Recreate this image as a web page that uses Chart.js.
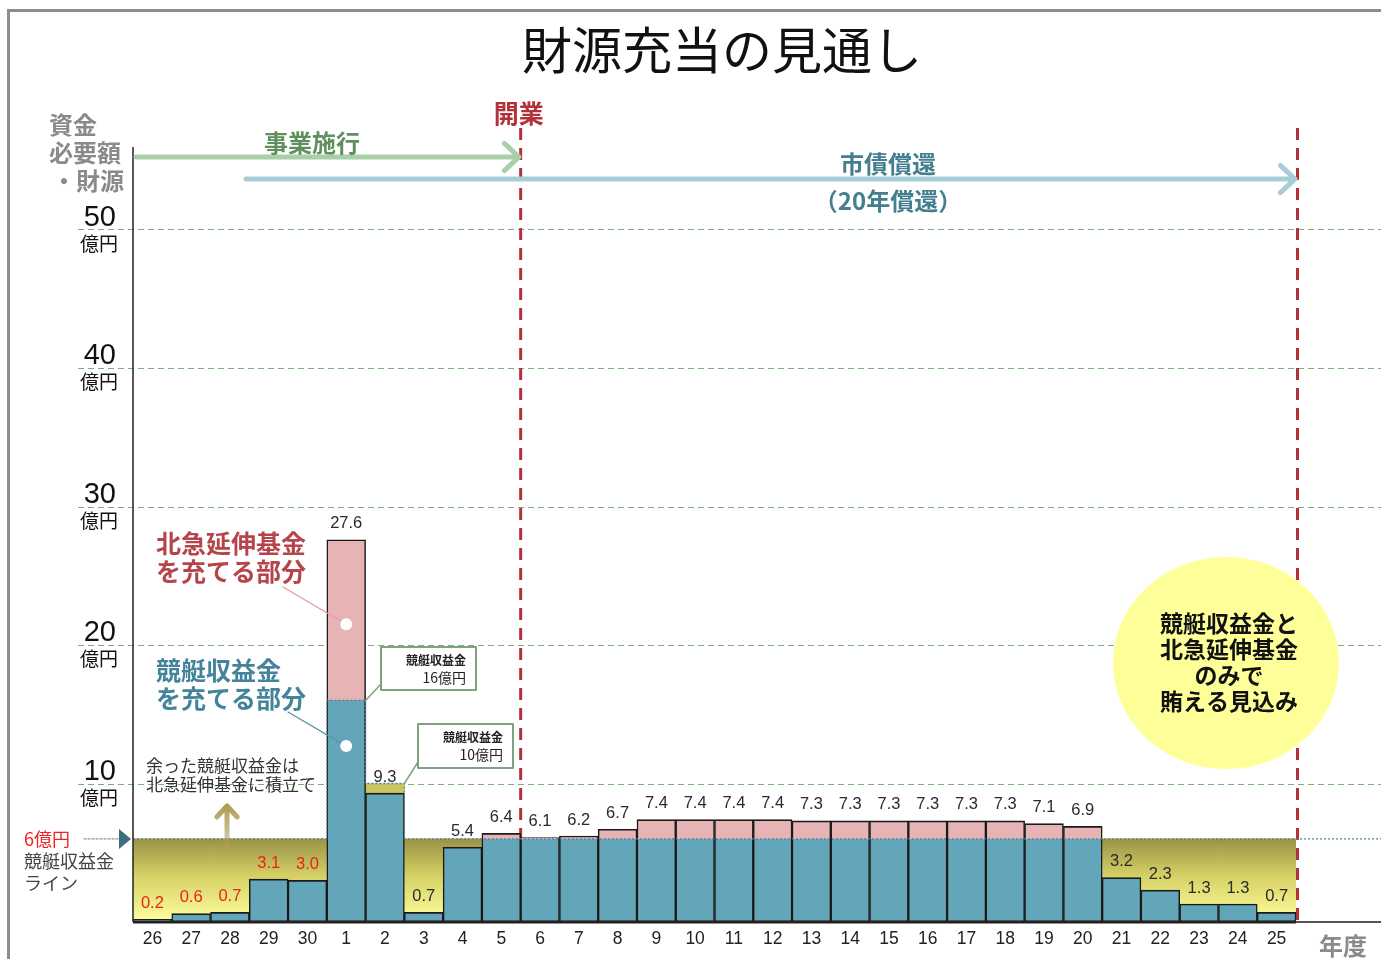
<!DOCTYPE html>
<html lang="ja">
<head>
<meta charset="utf-8">
<title>財源充当の見通し</title>
<script src="https://cdn.jsdelivr.net/npm/chart.js@4.4.1/dist/chart.umd.min.js"></script>
<style>
  html, body { margin: 0; padding: 0; background: #fff; }
  #wrap { width: 1381px; height: 959px; }
</style>
</head>
<body>
<div id="wrap"><canvas id="chart" width="1381" height="959"></canvas></div>
<script>
// 年度 (平成26〜30, 令和1〜25)
const years = ["26", "27", "28", "29", "30",
  "1", "2", "3", "4", "5", "6", "7", "8", "9", "10",
  "11", "12", "13", "14", "15", "16", "17", "18", "19", "20",
  "21", "22", "23", "24", "25"];

// 資金必要額 (億円)
const needTotal = [0.2, 0.6, 0.7, 3.1, 3.0,
  27.6, 9.3, 0.7, 5.4, 6.4, 6.1, 6.2, 6.7, 7.4, 7.4,
  7.4, 7.4, 7.3, 7.3, 7.3, 7.3, 7.3, 7.3, 7.1, 6.9,
  3.2, 2.3, 1.3, 1.3, 0.7];

// 競艇収益金 (億円)
const kyoteiIncome = [6, 6, 6, 6, 6,
  16, 10, 6, 6, 6, 6, 6, 6, 6, 6,
  6, 6, 6, 6, 6, 6, 6, 6, 6, 6,
  6, 6, 6, 6, 6];

const yTicks = [10, 20, 30, 40, 50];
const yUnit = "億円";

// 開業 / 償還終了 の区切り (年度)
const openYear = "5";
const endYear = "25";

// 表から描画用の系列を作る
const kyoteiPart = needTotal.map((v, i) => Math.min(v, kyoteiIncome[i]));
const fundPart = needTotal.map((v, i) => v > kyoteiIncome[i] ? +(v - kyoteiIncome[i]).toFixed(1) : null);
const surplus = needTotal.map((v, i) => v < kyoteiIncome[i] ? kyoteiIncome[i] : null);

const JP = '"Noto Sans CJK JP", "Noto Sans", sans-serif';
const NUM = '"Liberation Sans", Arial, sans-serif';

function text(ctx, str, x, y, font, color, align) {
  ctx.font = font;
  ctx.fillStyle = color;
  ctx.textAlign = align || "left";
  ctx.textBaseline = "middle";
  ctx.fillText(str, x, y);
}

function chevron(ctx, x, y, dir, size) {
  const a1 = dir + Math.PI - 0.75, a2 = dir + Math.PI + 0.75;
  ctx.beginPath();
  ctx.moveTo(x + Math.cos(a1) * size, y + Math.sin(a1) * size);
  ctx.lineTo(x, y);
  ctx.lineTo(x + Math.cos(a2) * size, y + Math.sin(a2) * size);
  ctx.stroke();
}

const decor = {
  id: "decor",
  beforeDatasetsDraw(chart) {
    const { ctx, scales: { x, y } } = chart;
    const half = (x.getPixelForValue(1) - x.getPixelForValue(0)) / 2;
    const y0 = y.getPixelForValue(0);
    ctx.save();
    // 横の破線グリッド
    ctx.strokeStyle = "#78b078";
    ctx.lineWidth = 1;
    ctx.setLineDash([6, 4]);
    yTicks.forEach(t => {
      const py = Math.round(y.getPixelForValue(t)) + 0.5;
      ctx.beginPath();
      ctx.moveTo(78, py);
      ctx.lineTo(1381, py);
      ctx.stroke();
    });

    // 開業・償還終了の赤破線 (棒の後ろ)
    const lines = [x.getPixelForValue(years.indexOf(openYear)) + half,
                   x.getPixelForValue(years.indexOf(endYear)) + half + 1.5];
    ctx.strokeStyle = "#b3323a";
    ctx.lineWidth = 3;
    ctx.setLineDash([12, 8]);
    lines.forEach(lx => {
      ctx.beginPath();
      ctx.moveTo(lx, 128);
      ctx.lineTo(lx, y0);
      ctx.stroke();
    });
    ctx.restore();
  },
  afterDatasetsDraw(chart) {
    const { ctx, chartArea: ca, scales: { x, y } } = chart;
    const half = (x.getPixelForValue(1) - x.getPixelForValue(0)) / 2;
    const y0 = y.getPixelForValue(0);
    ctx.save();

    // 競艇収益金ライン (点線)
    ctx.strokeStyle = "#4f8494";
    ctx.lineWidth = 1.3;
    ctx.setLineDash([2, 2]);
    ctx.beginPath();
    kyoteiIncome.forEach((v, i) => {
      const cx = x.getPixelForValue(i);
      const py = y.getPixelForValue(v);
      if (i === 0) ctx.moveTo(cx - half, py); else ctx.lineTo(cx - half, py);
      ctx.lineTo(cx + half, py);
    });
    ctx.lineTo(1381, y.getPixelForValue(kyoteiIncome[kyoteiIncome.length - 1]));
    ctx.stroke();
    ctx.setLineDash([]);

    // 軸線
    ctx.strokeStyle = "#222";
    ctx.lineWidth = 1.5;
    ctx.beginPath();
    ctx.moveTo(ca.left, 147);
    ctx.lineTo(ca.left, y0);
    ctx.stroke();
    ctx.lineWidth = 3;
    ctx.beginPath();
    ctx.moveTo(ca.left, y0);
    ctx.lineTo(ca.right, y0);
    ctx.stroke();
    ctx.strokeStyle = "#555";
    ctx.lineWidth = 2;
    ctx.beginPath();
    ctx.moveTo(ca.right, y0);
    ctx.lineTo(1381, y0);
    ctx.stroke();

    // 値ラベル
    needTotal.forEach((v, i) => {
      const cx = x.getPixelForValue(i);
      const py = y.getPixelForValue(v) - 16;
      text(ctx, v.toFixed(1), cx, py, `16.5px ${NUM}`, i < 5 ? "#e8231b" : "#2a2a2a", "center");
    });
    ctx.restore();
  },
  afterDraw(chart) {
    const { ctx, scales: { x, y } } = chart;
    const half = (x.getPixelForValue(1) - x.getPixelForValue(0)) / 2;
    ctx.save();

    // 外枠
    ctx.strokeStyle = "#8c8c8c";
    ctx.lineWidth = 3;
    ctx.beginPath();
    ctx.moveTo(8.5, 959);
    ctx.lineTo(8.5, 10.5);
    ctx.lineTo(1381, 10.5);
    ctx.stroke();

    // タイトル
    text(ctx, "財源充当の見通し", 722, 50, `400 50px ${JP}`, "#111", "center");

    // 軸タイトル
    const gray = "#8a8a8a";
    text(ctx, "資金", 49, 125, `bold 24px ${JP}`, gray);
    text(ctx, "必要額", 49, 153, `bold 24px ${JP}`, gray);
    text(ctx, "・財源", 124, 181, `bold 24px ${JP}`, gray, "right");
    text(ctx, "年度", 1343, 946, `bold 24px ${JP}`, gray, "center");

    // y 目盛
    yTicks.forEach(t => {
      const py = y.getPixelForValue(t);
      text(ctx, String(t), 116, py - 12, `29px ${NUM}`, "#111", "right");
      text(ctx, yUnit, 80, py + 14, `19px ${JP}`, "#111");
    });

    // x 目盛
    years.forEach((lab, i) => {
      text(ctx, lab, x.getPixelForValue(i), 939, `17.5px ${NUM}`, "#222", "center");
    });

    // 事業施行 矢印
    ctx.lineCap = "round";
    ctx.lineJoin = "round";
    ctx.strokeStyle = "#a8cfa8";
    ctx.lineWidth = 5;
    ctx.beginPath();
    ctx.moveTo(136, 157);
    ctx.lineTo(518, 157);
    ctx.stroke();
    chevron(ctx, 519, 157, 0, 20);
    text(ctx, "事業施行", 312, 143, `bold 24px ${JP}`, "#5f8f5f", "center");

    // 市債償還 矢印
    const endX = x.getPixelForValue(years.length - 1) + half;
    ctx.strokeStyle = "#a6cdd8";
    ctx.beginPath();
    ctx.moveTo(246, 179);
    ctx.lineTo(endX - 2, 179);
    ctx.stroke();
    chevron(ctx, endX - 1, 179, 0, 20);
    text(ctx, "市債償還", 888, 164, `bold 24px ${JP}`, "#437f8f", "center");
    text(ctx, "（20年償還）", 888, 201, `bold 24px ${JP}`, "#437f8f", "center");

    // 開業
    const openX = x.getPixelForValue(years.indexOf(openYear)) + half;
    text(ctx, "開業", openX - 2, 113, `bold 25px ${JP}`, "#b3323a", "center");

    // 見込み の楕円
    ctx.fillStyle = "#ffff99";
    ctx.beginPath();
    ctx.ellipse(1226, 663, 113, 106, 0, 0, Math.PI * 2);
    ctx.fill();
    ["競艇収益金と", "北急延伸基金", "のみで", "賄える見込み"].forEach((s, k) => {
      text(ctx, s, 1229, 623 + k * 26, `bold 23px ${JP}`, "#111", "center");
    });

    // 棒の説明 (北急延伸基金 / 競艇収益金)
    const barX = x.getPixelForValue(years.indexOf("1"));
    const dotPink = y.getPixelForValue(21.5);
    const dotBlue = y.getPixelForValue(12.7);
    ctx.lineWidth = 1.3;
    ctx.strokeStyle = "#e79a9a";
    ctx.beginPath();
    ctx.moveTo(283, 587);
    ctx.lineTo(barX, dotPink);
    ctx.stroke();
    ctx.strokeStyle = "#5c93a3";
    ctx.beginPath();
    ctx.moveTo(288, 712);
    ctx.lineTo(barX, dotBlue);
    ctx.stroke();
    ctx.fillStyle = "#fff";
    [dotPink, dotBlue].forEach(py => {
      ctx.beginPath();
      ctx.arc(barX, py, 6, 0, Math.PI * 2);
      ctx.fill();
    });
    text(ctx, "北急延伸基金", 156, 543, `bold 25px ${JP}`, "#b5454a");
    text(ctx, "を充てる部分", 156, 571, `bold 25px ${JP}`, "#b5454a");
    text(ctx, "競艇収益金", 156, 670, `bold 25px ${JP}`, "#44849a");
    text(ctx, "を充てる部分", 156, 698, `bold 25px ${JP}`, "#44849a");

    // 余った競艇収益金
    text(ctx, "余った競艇収益金は", 146, 766, `17px ${JP}`, "#333");
    text(ctx, "北急延伸基金に積立て", 146, 785, `17px ${JP}`, "#333");
    const ag = ctx.createLinearGradient(0, 806, 0, 855);
    ag.addColorStop(0, "rgba(176,158,88,1)");
    ag.addColorStop(1, "rgba(176,158,88,0.35)");
    ctx.strokeStyle = ag;
    ctx.lineWidth = 5;
    ctx.lineCap = "butt";
    ctx.beginPath();
    ctx.moveTo(227, 855);
    ctx.lineTo(227, 808);
    ctx.stroke();
    ctx.lineCap = "round";
    chevron(ctx, 227, 806, -Math.PI / 2, 15);

    // 6億円ライン
    const y6 = y.getPixelForValue(6);
    text(ctx, "6億円", 24, y6, `18px ${JP}`, "#ee2222");
    text(ctx, "競艇収益金", 24, y6 + 22, `18px ${JP}`, "#444");
    text(ctx, "ライン", 24, y6 + 44, `18px ${JP}`, "#444");
    ctx.strokeStyle = "#7a9aa5";
    ctx.lineWidth = 1.3;
    ctx.setLineDash([2, 2]);
    ctx.beginPath();
    ctx.moveTo(84, y6);
    ctx.lineTo(119, y6);
    ctx.stroke();
    ctx.setLineDash([]);
    ctx.fillStyle = "#3d6e7e";
    ctx.beginPath();
    ctx.moveTo(119, y6 - 10);
    ctx.lineTo(131, y6);
    ctx.lineTo(119, y6 + 10);
    ctx.closePath();
    ctx.fill();

    // 吹き出し: 競艇収益金 16億円 / 10億円
    const b1 = years.indexOf("1"), b2 = years.indexOf("2");
    const boxes = [
      { x: 381, y: 647, w: 95, h: 43, amount: kyoteiIncome[b1], tx: x.getPixelForValue(b1) + half, ty: y.getPixelForValue(kyoteiIncome[b1]) },
      { x: 418, y: 724, w: 95, h: 44, amount: kyoteiIncome[b2], tx: x.getPixelForValue(b2) + half, ty: y.getPixelForValue(kyoteiIncome[b2]) }
    ];
    boxes.forEach(b => {
      ctx.strokeStyle = "#7fa27f";
      ctx.lineWidth = 1.5;
      ctx.beginPath();
      ctx.moveTo(b.x, b.y + b.h - 6);
      ctx.lineTo(b.tx, b.ty);
      ctx.stroke();
      ctx.fillStyle = "#fff";
      ctx.fillRect(b.x, b.y, b.w, b.h);
      ctx.lineWidth = 2;
      ctx.strokeRect(b.x, b.y, b.w, b.h);
      text(ctx, "競艇収益金", b.x + 85, b.y + 13, `bold 12px ${JP}`, "#222", "right");
      text(ctx, b.amount + "億円", b.x + 85, b.y + 31, `14px ${JP}`, "#222", "right");
    });

    ctx.restore();
  }
};

function surplusColor(c) {
  const { chart, dataIndex } = c;
  const { ctx, chartArea, scales } = chart;
  if (!chartArea) return "#e0dc70";
  if (kyoteiIncome[dataIndex] > 6) return "#cbc55f";
  const top = scales.y.getPixelForValue(6);
  const bottom = scales.y.getPixelForValue(0);
  const g = ctx.createLinearGradient(0, top, 0, bottom);
  g.addColorStop(0, "#9a9347");
  g.addColorStop(0.45, "#d6d166");
  g.addColorStop(1, "#ffff9e");
  return g;
}

const canvas = document.getElementById("chart");
const chart = new Chart(canvas.getContext("2d"), {
  type: "bar",
  data: {
    labels: years,
    datasets: [
      {
        label: "余剰",
        data: surplus,
        stack: "bg",
        grouped: false,
        order: 3,
        backgroundColor: surplusColor,
        borderWidth: 0
      },
      {
        label: "競艇収益金を充てる部分",
        data: kyoteiPart,
        stack: "need",
        order: 1,
        backgroundColor: "#64a6b9",
        borderColor: "#1a1a1a",
        borderSkipped: false,
        borderWidth: c => ({ top: fundPart[c.dataIndex] ? 0 : 1.7, left: 1.5, right: 1.5, bottom: 1.5 })
      },
      {
        label: "北急延伸基金を充てる部分",
        data: fundPart,
        stack: "need",
        order: 1,
        backgroundColor: "#e6b4b4",
        borderColor: "#1a1a1a",
        borderSkipped: false,
        borderWidth: { top: 1.7, left: 1.5, right: 1.5, bottom: 0 }
      }
    ]
  },
  options: {
    responsive: false,
    animation: false,
    layout: { padding: { left: 133, right: 85, top: 146.4, bottom: 37 } },
    datasets: { bar: { barPercentage: 1, categoryPercentage: 1 } },
    plugins: {
      legend: { display: false },
      tooltip: { enabled: false },
      title: { display: false }
    },
    scales: {
      x: {
        stacked: true,
        offset: true,
        grid: { display: false },
        border: { display: false },
        ticks: { display: false },
        afterFit: s => { s.height = 0; }
      },
      y: {
        stacked: true,
        min: 0,
        max: 56,
        grid: { display: false },
        border: { display: false },
        ticks: { display: false },
        afterFit: s => { s.width = 0; }
      }
    }
  },
  plugins: [decor]
});
</script>
</body>
</html>
